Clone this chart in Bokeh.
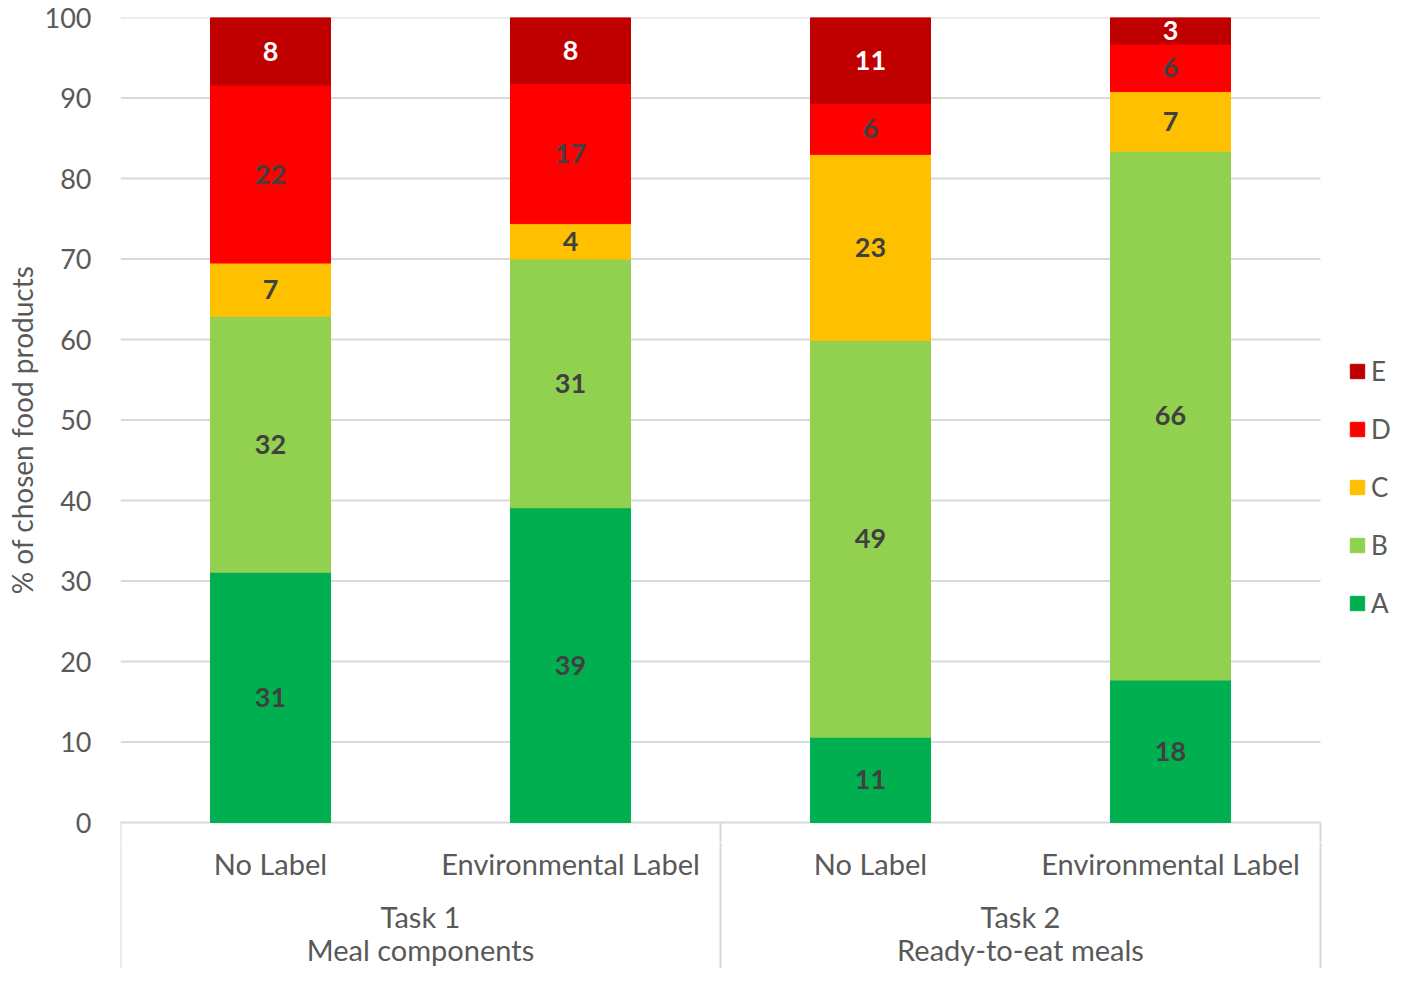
from bokeh.plotting import figure
from bokeh.layouts import column
from bokeh.models import ColumnDataSource, Range1d, FixedTicker, Legend, LegendItem
from bokeh.core.properties import value
from bokeh.embed import file_html
from bokeh.resources import INLINE

# ---------------- data ----------------
conditions = ["No Label", "Environmental Label", "No Label", "Environmental Label"]
task_names = ["Task 1", "Task 2"]
task_descs = ["Meal components", "Ready-to-eat meals"]
grades = ["A", "B", "C", "D", "E"]
A = [31.1, 39.1, 10.6, 17.7]
B = [31.8, 30.9, 49.3, 65.7]
C = [6.6, 4.4, 23.1, 7.4]
D = [22.1, 17.4, 6.3, 5.9]
E = [8.4, 8.2, 10.7, 3.3]
y_ticks = [0, 10, 20, 30, 40, 50, 60, 70, 80, 90, 100]

colors = ["#00B050", "#92D050", "#FFC000", "#FF0000", "#C00000"]
label_colors = ["#404040", "#404040", "#404040", "#404040", "#FFFFFF"]
FONT = "Lato"
GRAY = "#595959"
LINE = "#D9D9D9"

# ---------------- layout ----------------
W, H = 1401, 968
frame_left, cat_right = 120, 1320
ppx = (cat_right - frame_left) / 4.0          # px per category unit
x_end = 4 + (W - cat_right) / ppx
frame_top, zero_px, top_h = 17, 822, 842
ppu = (zero_px - frame_top) / 100.0
y_min = -(top_h - zero_px) / ppu
bot_h = H - top_h

top = figure(width=W, height=top_h, x_range=Range1d(0, x_end),
             y_range=Range1d(y_min, 100),
             x_axis_type=None, output_backend="svg", toolbar_location=None,
             min_border_left=frame_left, min_border_right=0,
             min_border_top=frame_top, min_border_bottom=0)
top.outline_line_color = None
top.xgrid.visible = False
top.ygrid.visible = False

yax = top.yaxis[0]
yax.ticker = FixedTicker(ticks=y_ticks)
yax.axis_line_color = None
yax.major_tick_line_color = None
yax.minor_tick_line_color = None
yax.major_tick_in = 0
yax.major_tick_out = 0
yax.major_label_standoff = 29
yax.major_label_text_font = FONT
yax.major_label_text_font_size = "27px"
yax.major_label_text_color = GRAY
yax.axis_label = "% of chosen food products"
yax.axis_label_text_font = FONT
yax.axis_label_text_font_size = "28px"
yax.axis_label_text_font_style = "normal"
yax.axis_label_text_color = GRAY
yax.axis_label_standoff = 3

# horizontal gridlines across the category area only
top.segment(x0=[0] * len(y_ticks), y0=y_ticks, x1=[4] * len(y_ticks), y1=y_ticks,
            line_color=LINE, line_width=2)
# start of category box lines
top.segment(x0=[0, 2, 4], y0=[0, 0, 0], x1=[0, 2, 4], y1=[y_min] * 3,
            line_color=LINE, line_width=2)

xs = [i + 0.5 for i in range(len(conditions))]
src = ColumnDataSource({"x": xs, "A": A, "B": B, "C": C, "D": D, "E": E})
renderers = top.vbar_stack(grades, x="x", width=0.4, color=colors, source=src)

# segment labels
lx, ly, lt, lc = [], [], [], []
series = [A, B, C, D, E]
for i, x in enumerate(xs):
    base = 0.0
    for k, s in enumerate(series):
        v = s[i]
        lx.append(x)
        ly.append(base + v / 2.0)
        lt.append(str(int(round(v))))
        lc.append(label_colors[k])
        base += v
top.text(x=lx, y=ly, text=lt, text_color=lc, text_font=value(FONT), text_font_style="bold",
         text_font_size="27px", text_align="center", text_baseline="middle")

# legend (E on top)
items = [LegendItem(label=g, renderers=[r]) for g, r in reversed(list(zip(grades, renderers)))]
legend = Legend(items=items, location=(1228, top_h - 619), orientation="vertical",
                border_line_color=None, background_fill_alpha=0, padding=0, margin=0,
                spacing=26, glyph_width=18, glyph_height=18, label_height=30,
                label_standoff=5, label_text_font=FONT, label_text_font_size="26px",
                label_text_color=GRAY, label_text_baseline="middle")
top.add_layout(legend)

# ---------------- category box below ----------------
bot = figure(width=W, height=bot_h,
             x_range=Range1d(0, x_end), y_range=Range1d(bot_h, 0),
             x_axis_type=None, y_axis_type=None, output_backend="svg", toolbar_location=None,
             min_border_left=frame_left, min_border_right=0, min_border_top=0, min_border_bottom=0)
bot.outline_line_color = None
bot.xgrid.visible = False
bot.ygrid.visible = False

bot.segment(x0=[0, 2, 4], y0=[0, 0, 0], x1=[0, 2, 4], y1=[bot_h] * 3,
            line_color=LINE, line_width=2)
bot.text(x=xs, y=[21] * len(xs), text=conditions, text_color=GRAY, text_font=value(FONT),
         text_font_size="29px", text_align="center", text_baseline="middle")
gx = [1.0, 3.0]
bot.text(x=gx, y=[74] * 2, text=task_names, text_color=GRAY, text_font=value(FONT),
         text_font_size="29px", text_align="center", text_baseline="middle")
bot.text(x=gx, y=[107] * 2, text=task_descs, text_color=GRAY, text_font=value(FONT),
         text_font_size="29px", text_align="center", text_baseline="middle")

layout = column(top, bot, spacing=0)
open("out.html", "w").write(file_html(layout, INLINE))
